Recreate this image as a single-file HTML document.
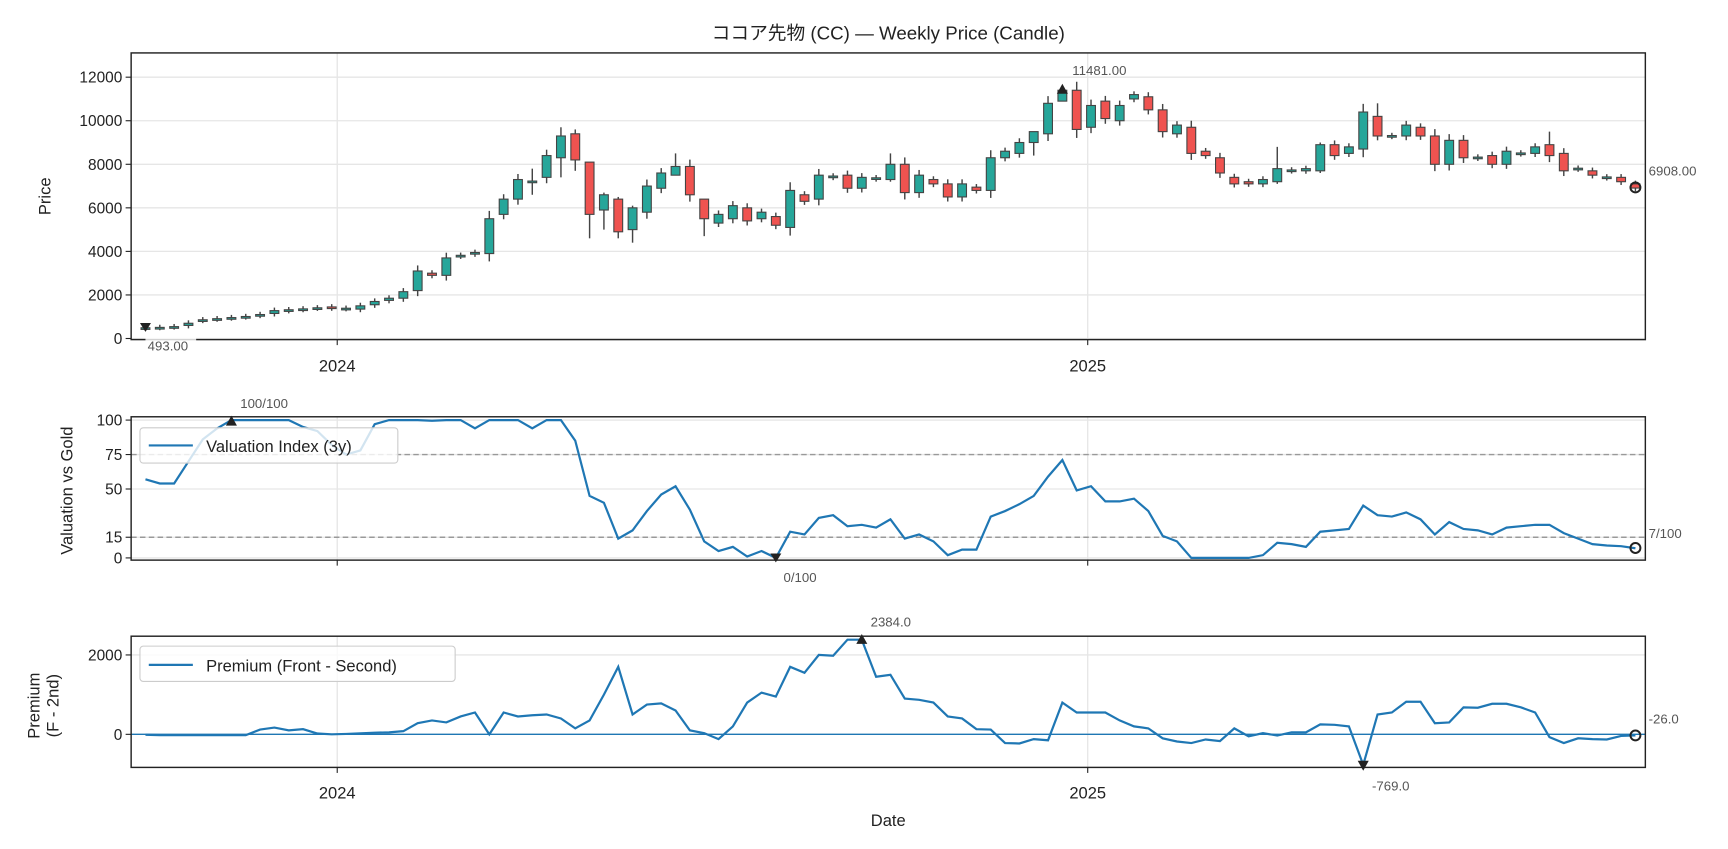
<!DOCTYPE html>
<html><head><meta charset="utf-8"><style>
html,body{margin:0;padding:0;background:#fff;}
svg{display:block;}
text{font-family:"Liberation Sans","Noto Sans CJK JP",sans-serif;fill:#222;}
</style></head><body>
<svg id="s" width="1728" height="849" viewBox="0 0 1568 770" preserveAspectRatio="none" xmlns="http://www.w3.org/2000/svg">
<rect width="1568" height="770" fill="#fff"/>
<g id="g"></g>
</svg>
<script>
const NS="http://www.w3.org/2000/svg";const G=document.getElementById('g');
function el(t,a,txt){const e=document.createElementNS(NS,t);for(const k in a)e.setAttribute(k,a[k]);if(txt!==undefined)e.textContent=txt;G.appendChild(e);return e;}
function line(x1,y1,x2,y2,c,w,extra){return el('line',Object.assign({x1,y1,x2,y2,stroke:c,'stroke-width':w},extra||{}));}
function text(x,y,s,size,anchor,fill,extra){return el('text',Object.assign({x,y,'font-size':size,'text-anchor':anchor||'start',style:'fill:'+(fill||'#222')},extra||{}),s);}
const L=119,R=1493;
const xs=i=>132+i*13.0;
text(806,36,"ココア先物 (CC) — Weekly Price (Candle)",17,'middle');
// ---------- Panel 1
const T1=48,B1=308;const py=v=>307-v*0.01975;
[0,2000,4000,6000,8000,10000,12000].forEach(v=>{line(L,py(v),R,py(v),'#e6e6e6',1.2);line(L-5,py(v),L,py(v),'#222',1);text(L-8,py(v)+5,String(v),14,'end');});
[306,987].forEach(x=>line(x,T1,x,B1,'#e6e6e6',1.2));
const C=[[480,493],[500,510],[530,545],[600,700],[830,860],[890,910],[940,960],[990,1010],[1060,1100],[1150,1280],[1280,1320],[1330,1360],[1390,1410],[1450,1400],[1370,1390],[1350,1500],[1550,1700],[1750,1850],[1850,2150],[2200,3100],[3000,2900],[2900,3700],[3780,3820],[3880,3950],[3900,5500],[5700,6400],[6400,7300],[7180,7230],[7400,8400],[8300,9300],[9400,8200],[8100,5700],[5900,6600],[6400,4900],[5000,6000],[5800,7000],[6900,7600],[7500,7900],[7900,6600],[6400,5500],[5300,5700],[5500,6100],[6000,5400],[5500,5800],[5600,5200],[5100,6800],[6600,6300],[6400,7500],[7400,7460],[7500,6900],[6900,7400],[7330,7380],[7300,8000],[8000,6700],[6700,7500],[7300,7100],[7100,6500],[6500,7100],[6950,6800],[6800,8300],[8300,8600],[8500,9000],[9000,9500],[9400,10800],[10900,11400],[11400,9600],[9700,10700],[10900,10100],[10000,10700],[11000,11200],[11100,10500],[10500,9500],[9400,9800],[9700,8500],[8600,8400],[8300,7600],[7400,7100],[7200,7100],[7100,7300],[7200,7800],[7700,7740],[7700,7800],[7700,8900],[8900,8400],[8500,8800],[8700,10400],[10200,9300],[9280,9320],[9300,9800],[9700,9300],[9300,8000],[8000,9100],[9100,8300],[8280,8330],[8400,8000],[8000,8600],[8480,8520],[8500,8800],[8900,8400],[8500,7700],[7780,7820],[7700,7500],[7380,7420],[7400,7200],[7100,6908]];
const HL={29:[9700,7400],30:[9600,7700],31:[8100,4600],32:[6700,5000],33:[6500,4600],34:[6100,4400],37:[8500,7500],39:[6400,4700],27:[7800,6600],52:[8500,7200],64:[11481,10900],86:[10800,9100],79:[8800,7100],62:[9200,8400],82:[9000,7600],98:[9500,8100]};
C.forEach((c,i)=>{const x=xs(i);const[o,cl]=c;const up=cl>=o;let hi=Math.max(o,cl)+Math.abs(cl-o)*0.15+120,lo=Math.min(o,cl)-Math.abs(cl-o)*0.15-120;if(HL[i]){hi=HL[i][0];lo=HL[i][1];}
line(x,py(hi),x,py(lo),'#444',1.3);const t=py(Math.max(o,cl)),b=py(Math.min(o,cl));el('rect',{x:x-4,y:t,width:8,height:Math.max(b-t,1.5),fill:up?'#26a69a':'#ef5350',stroke:'#444','stroke-width':1});});
el('rect',{x:L,y:T1,width:R-L,height:B1-T1,fill:'none',stroke:'#222','stroke-width':1.3});
[306,987].forEach(x=>line(x,B1,x,B1+5,'#222',1));
text(306,337,'2024',15,'middle');text(987,337,'2025',15,'middle');
text(46,178,'Price',15,'middle',null,{transform:'rotate(-90 46 178)'});
el('path',{d:'M127 293 L137 293 L132 301 Z',fill:'#222'});
el('rect',{x:132,y:305,width:46,height:14,fill:'#fff',opacity:0.8});text(134,318,'493.00',12,'start','#555');
el('path',{d:'M959 85 L969 85 L964 76 Z',fill:'#222'});text(973,68,'11481.00',12,'start','#555');
el('circle',{cx:1484,cy:170,r:4.5,fill:'none',stroke:'#222','stroke-width':1.8});text(1496,159,'6908.00',12,'start','#555');
// ---------- Panel 2
const T2=378,B2=508;const vy=v=>506-v*1.25;
[0,15,50,75,100].forEach(v=>{line(L,vy(v),R,vy(v),'#e6e6e6',1.2);line(L-5,vy(v),L,vy(v),'#222',1);text(L-8,vy(v)+5,String(v),14,'end');});
[306,987].forEach(x=>line(x,T2,x,B2,'#e6e6e6',1.2));
[75,15].forEach(v=>line(L,vy(v),R,vy(v),'#999',1.3,{'stroke-dasharray':'5,3'}));
const V=[57,54,54,70,86,94,100,100,100,100,100,95,92,82,75,78,97,100,100,100,99.5,100,100,94,100,100,100,94,100,100,85,45,40,14,20,34,46,52,35,12,5,8,1,5,0,19,17,29,31,23,24,22,28,14,17,12,2,6,6,30,34,39,45,59,71,49,52,41,41,43,34,16,12,0,0,0,0,0,2,11,10,8,19,20,21,38,31,30,33,28,17,26,21,20,17,22,23,24,24,18,14,10,9,8.5,7];
while(V.length<105)V.push(7);
el('polyline',{points:V.map((v,i)=>xs(i)+','+vy(v)).join(' '),fill:'none',stroke:'#1f77b4','stroke-width':2});
el('rect',{x:127,y:388,width:234,height:32,rx:3,fill:'#fff','fill-opacity':0.8,stroke:'#ccc'});
line(135,404,175,404,'#1f77b4',2);text(187,410,'Valuation Index (3y)',15);
el('rect',{x:L,y:T2,width:R-L,height:B2-T2,fill:'none',stroke:'#222','stroke-width':1.3});
[306,987].forEach(x=>line(x,B2,x,B2+5,'#222',1));
text(66,445,'Valuation vs Gold',15,'middle',null,{transform:'rotate(-90 66 445)'});
el('path',{d:'M205 386 L215 386 L210 377 Z',fill:'#222'});text(218,370,'100/100',12,'start','#555');
el('path',{d:'M699 502 L709 502 L704 510 Z',fill:'#222'});text(711,528,'0/100',12,'start','#555');
el('circle',{cx:1484,cy:497,r:4.5,fill:'none',stroke:'#222','stroke-width':1.8});text(1496,488,'7/100',12,'start','#555');
// ---------- Panel 3
const T3=577,B3=696;const qy=v=>666-v*0.036;
[0,2000].forEach(v=>{line(L,qy(v),R,qy(v),'#e6e6e6',1.2);line(L-5,qy(v),L,qy(v),'#222',1);text(L-8,qy(v)+5,String(v),14,'end');});
[306,987].forEach(x=>line(x,T3,x,B3,'#e6e6e6',1.2));
line(L,666,R,666,'#1f77b4',1.2);
const P=[-10,-20,-20,-20,-20,-20,-20,-20,120,170,100,130,20,0,10,25,40,50,80,280,350,300,450,550,0,550,450,480,500,400,150,350,1000,1700,500,750,780,600,100,30,-120,200,800,1050,950,1700,1550,2000,1980,2384,2384,1450,1500,900,870,800,450,400,130,120,-220,-230,-120,-150,800,550,550,550,350,200,150,-100,-180,-220,-130,-170,150,-50,30,-30,50,50,250,240,200,-769,500,550,820,820,280,300,680,670,770,770,680,550,-70,-220,-100,-120,-130,-40,-26];
while(P.length<105)P.push(-26);
el('polyline',{points:P.map((v,i)=>xs(i)+','+qy(v)).join(' '),fill:'none',stroke:'#1f77b4','stroke-width':2});
el('rect',{x:127,y:586,width:286,height:32,rx:3,fill:'#fff','fill-opacity':0.8,stroke:'#ccc'});
line(135,603,175,603,'#1f77b4',2);text(187,609,'Premium (Front - Second)',15);
el('rect',{x:L,y:T3,width:R-L,height:B3-T3,fill:'none',stroke:'#222','stroke-width':1.3});
[306,987].forEach(x=>line(x,B3,x,B3+5,'#222',1));
text(306,724,'2024',15,'middle');text(987,724,'2025',15,'middle');text(806,749,'Date',15,'middle');
text(36,640,'Premium',15,'middle',null,{transform:'rotate(-90 36 640)'});
text(53,640,'(F - 2nd)',15,'middle',null,{transform:'rotate(-90 53 640)'});
el('path',{d:'M777 584 L787 584 L782 575 Z',fill:'#222'});text(790,568,'2384.0',12,'start','#555');
el('path',{d:'M1232 690 L1242 690 L1237 699 Z',fill:'#222'});text(1245,717,'-769.0',12,'start','#555');
el('circle',{cx:1484,cy:667,r:4.5,fill:'none',stroke:'#222','stroke-width':1.8});text(1496,656,'-26.0',12,'start','#555');
</script>
</body></html>
